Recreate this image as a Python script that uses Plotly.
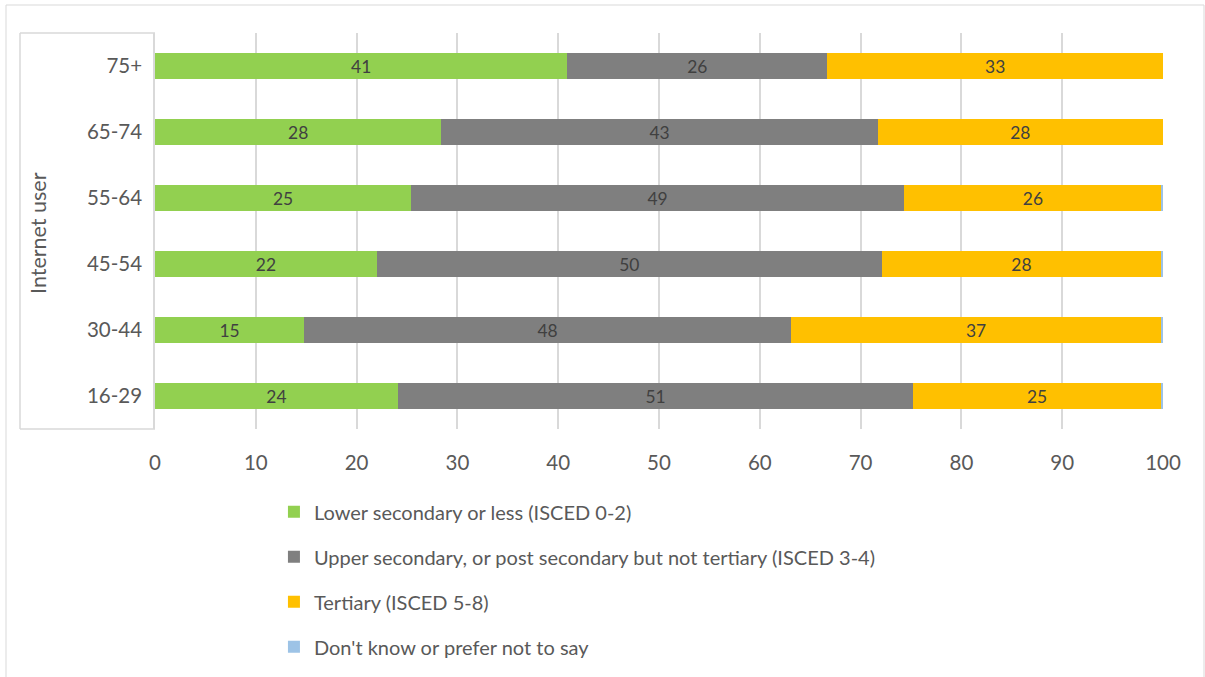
import plotly.graph_objects as go

categories = ["16-29", "30-44", "45-54", "55-64", "65-74", "75+"]
lower_secondary = [24.1, 14.8, 22.0, 25.4, 28.4, 40.9]
upper_secondary = [51.1, 48.3, 50.1, 48.9, 43.3, 25.8]
tertiary = [24.6, 36.7, 27.7, 25.6, 28.3, 33.3]
dont_know = [0.2, 0.2, 0.2, 0.1, 0.0, 0.0]
series_names = [
    "Lower secondary or less (ISCED 0-2)",
    "Upper secondary, or post secondary but not tertiary (ISCED 3-4)",
    "Tertiary (ISCED 5-8)",
    "Don't know or prefer not to say",
]
x_ticks = [0, 10, 20, 30, 40, 50, 60, 70, 80, 90, 100]

FONT = "Lato"
colors = ["#92D050", "#7F7F7F", "#FFC000", "#9DC3E6"]
series = [lower_secondary, upper_secondary, tertiary, dont_know]

fig = go.Figure()
for i, (name, vals, col) in enumerate(zip(series_names, series, colors)):
    show_text = i < 3
    fig.add_trace(go.Bar(
        y=categories, x=vals, orientation="h", name=name,
        marker=dict(color=col, line=dict(width=0)),
        text=vals if show_text else None,
        texttemplate="%{x:.0f}" if show_text else None,
        textposition="inside" if show_text else "none",
        insidetextanchor="middle",
        textangle=0,
        insidetextfont=dict(family=FONT, size=20.5, color="#404040"),
        legendgroup=str(i),
    ))

fig.update_layout(
    barmode="stack",
    bargap=0.6,
    width=1205, height=677,
    margin=dict(l=155, r=42, t=33, b=248, autoexpand=False),
    paper_bgcolor="white", plot_bgcolor="white",
    font=dict(family=FONT, color="#595959"),
    showlegend=True,
    legend=dict(
        x=0.118, y=-0.16, xanchor="left", yanchor="top",
        orientation="v", traceorder="grouped",
        font=dict(family=FONT, size=20, color="#595959"),
        tracegroupgap=16, itemwidth=30,
        bgcolor="rgba(0,0,0,0)",
    ),
    xaxis=dict(
        range=[0, 100], tickvals=x_ticks, showgrid=True,
        gridcolor="#D9D9D9", gridwidth=1.5, zeroline=False, showline=False,
        tickfont=dict(family=FONT, size=20.5, color="#595959"),
        ticks="", ticklabelstandoff=19, automargin=False,
    ),
    yaxis=dict(
        categoryorder="array", categoryarray=categories,
        range=[-0.5, 5.5], showgrid=False, zeroline=False,
        showline=True, linecolor="#D9D9D9", linewidth=1.5,
        tickfont=dict(family=FONT, size=20.5, color="#595959"),
        ticks="", ticklabelstandoff=7, automargin=False,
    ),
    annotations=[dict(
        text="Internet user", xref="paper", yref="paper",
        x=(38 - 155) / 1008, y=0.495, textangle=-90, showarrow=False,
        xanchor="center", yanchor="middle",
        font=dict(family=FONT, size=21.5, color="#595959"),
    )],
)

bx = (20 - 155) / 1008
line = dict(color="#D9D9D9", width=1.5)
fig.add_shape(type="line", xref="paper", yref="paper", x0=bx, x1=bx, y0=0, y1=1, line=line)
fig.add_shape(type="line", xref="paper", yref="paper", x0=bx, x1=0, y0=1, y1=1, line=line)
fig.add_shape(type="line", xref="paper", yref="paper", x0=bx, x1=0, y0=0, y1=0, line=line)
fig.add_shape(type="rect", xref="paper", yref="paper",
              x0=(6 - 155) / 1008, x1=(1204 - 155) / 1008,
              y0=(429 - 680) / 396, y1=(429 - 5) / 396,
              line=dict(color="#D9D9D9", width=1), layer="below")

fig.write_html("out.html")
